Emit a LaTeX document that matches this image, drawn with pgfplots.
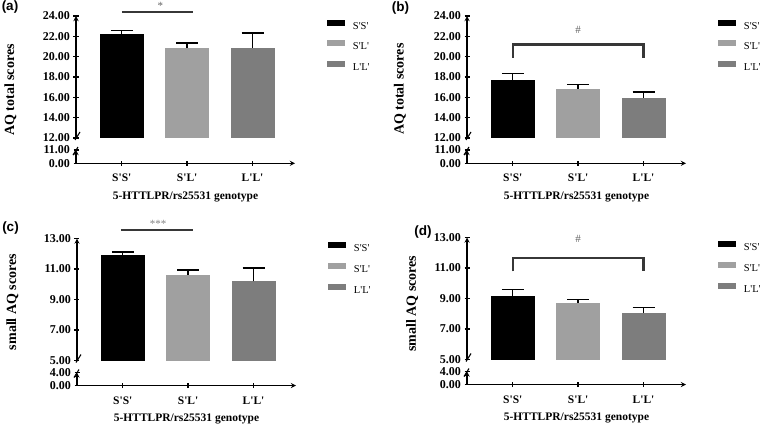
\documentclass[border=0pt]{standalone}
\usepackage{fontspec}
\setmainfont{Liberation Serif}[Ligatures=TeXOff]
\newfontfamily\sansb{Liberation Sans}[Ligatures=TeXOff]
\usepackage{pgfplots}
\pgfplotsset{compat=1.18}
\definecolor{cSL}{RGB}{160,160,160}
\definecolor{cLL}{RGB}{125,125,125}
\definecolor{sig}{RGB}{55,55,55}
\definecolor{sigtxt}{RGB}{100,100,100}
\tikzset{brk/.style={line width=1.1pt, black}}
\pgfplotsset{
  base/.style={scale only axis, width=219pt, xmin=-0.7, xmax=2.65,
    anchor=south west,
    axis line style={line width=1.3pt,-},
    every tick/.style={black,line width=1.3pt},
    tick align=outside, major tick length=5pt,
    /pgf/number format/assume math mode=true,
    yticklabel style={font=\bfseries\fontsize{12}{12}\selectfont,
      /pgf/number format/.cd, fixed, fixed zerofill, precision=2},
  },
  upper/.style={base, axis x line=none, axis y line=left, height=122pt,
    xtick=\empty, clip=true,
    ylabel style={font=\bfseries\fontsize{14}{14}\selectfont, anchor=center},
    error bars/y dir=plus, error bars/y explicit,
    error bars/error bar style={line width=1.3pt, black},
    error bars/error mark options={line width=1.3pt, mark size=11pt, black, rotate=90},
    legend style={draw=none, fill=none, inner sep=0pt, outer sep=0pt,
      anchor=north west, row sep=9.3pt, column sep=8pt,
      font=\fontsize{10.5}{11}\selectfont,
      nodes={inner sep=0pt, text height=8pt, text depth=2pt}},
    legend cell align=left,
  },
  lower/.style={base, axis x line=bottom, axis y line=left, clip=false,
    ymin=0, xtick={0,1,2}, xticklabels={S'S',S'L',L'L'},
    xticklabel style={font=\bfseries\fontsize{11.5}{11.5}\selectfont, yshift=-5pt},
    xlabel={5-HTTLPR/rs25531 genotype},
    xlabel style={font=\bfseries\fontsize{11.5}{11.5}\selectfont, yshift=-3pt},
  },
  over/.style={base, hide axis, clip=false, height=122pt},
  limg/.style={legend image code/.code={\fill[#1] (0pt,0.5pt) rectangle (18pt,6.5pt);}},
  bSS/.style={ybar, bar width=44pt, bar shift=0pt, fill=black, draw=none, limg=black},
  bSL/.style={ybar, bar width=44pt, bar shift=0pt, fill=cSL, draw=none, limg=cSL},
  bLL/.style={ybar, bar width=44pt, bar shift=0pt, fill=cLL, draw=none, limg=cLL},
}
\begin{document}
\begin{tikzpicture}
\useasboundingbox (0pt,0pt) rectangle (760pt,424pt);

% ---------------- (a) ----------------
\begin{axis}[upper, at={(76pt,286pt)}, ymin=12, ymax=24, ytick={12,14,...,24},
  ylabel={AQ total scores}, ylabel style={at={(axis description cs:-0.30,0.393)}},
  legend style={at={(axis description cs:1.146,0.97)}}]
\addplot[bSS] coordinates {(0,22.27) +- (0,0.33)}; \addlegendentry{S'S'}
\addplot[bSL] coordinates {(1,20.83) +- (0,0.52)}; \addlegendentry{S'L'}
\addplot[bLL] coordinates {(2,20.86) +- (0,1.47)}; \addlegendentry{L'L'}
\end{axis}
\begin{axis}[over, at={(76pt,286pt)}, ymin=12, ymax=24]
\addplot[sig, line width=2pt] coordinates {(0,24.43) (1.09,24.43)};
\node[text=sigtxt, font=\fontsize{11}{11}\selectfont] at (axis cs:0.59,24.95) {*};
\draw[brk] (rel axis cs:0,0) ++(-1pt,-2pt) -- ++(5pt,8pt);
\end{axis}
\begin{axis}[lower, at={(76pt,260.7pt)}, height=13.3pt, ymax=11, ytick={0,11}]
\draw[brk] (rel axis cs:0,1) ++(-3pt,-5pt) -- ++(5pt,8pt);
\end{axis}

% ---------------- (b) ----------------
\begin{axis}[upper, at={(467pt,286pt)}, ymin=12, ymax=24, ytick={12,14,...,24},
  ylabel={AQ total scores}, ylabel style={at={(axis description cs:-0.306,0.40)}},
  legend style={at={(axis description cs:1.146,0.97)}}]
\addplot[bSS] coordinates {(0,17.74) +- (0,0.62)}; \addlegendentry{S'S'}
\addplot[bSL] coordinates {(1,16.85) +- (0,0.43)}; \addlegendentry{S'L'}
\addplot[bLL] coordinates {(2,15.97) +- (0,0.55)}; \addlegendentry{L'L'}
\end{axis}
\begin{axis}[over, at={(467pt,286pt)}, ymin=12, ymax=24]
\addplot[sig, line width=2.2pt] coordinates {(0,19.9) (0,21.2) (2,21.2) (2,19.9)};
\node[text=sigtxt, font=\fontsize{11}{11}\selectfont] at (axis cs:1,22.6) {\#};
\draw[brk] (rel axis cs:0,0) ++(-1pt,-2pt) -- ++(5pt,8pt);
\end{axis}
\begin{axis}[lower, at={(467pt,260.7pt)}, height=13.3pt, ymax=11, ytick={0,11}]
\draw[brk] (rel axis cs:0,1) ++(-3pt,-5pt) -- ++(5pt,8pt);
\end{axis}

% ---------------- (c) ----------------
\begin{axis}[upper, at={(77pt,63.5pt)}, ymin=5, ymax=13, ytick={5,7,...,13},
  ylabel={small AQ scores}, ylabel style={at={(axis description cs:-0.295,0.48)}},
  legend style={at={(axis description cs:1.146,0.97)}}]
\addplot[bSS] coordinates {(0,11.93) +- (0,0.19)}; \addlegendentry{S'S'}
\addplot[bSL] coordinates {(1,10.63) +- (0,0.31)}; \addlegendentry{S'L'}
\addplot[bLL] coordinates {(2,10.19) +- (0,0.88)}; \addlegendentry{L'L'}
\end{axis}
\begin{axis}[over, at={(77pt,63.5pt)}, ymin=5, ymax=13]
\addplot[sig, line width=2pt] coordinates {(-0.03,13.53) (1.08,13.53)};
\node[text=sigtxt!80, font=\fontsize{11}{11}\selectfont] at (axis cs:0.54,13.95) {***};
\draw[brk] (rel axis cs:0,0) ++(-1pt,-2pt) -- ++(5pt,8pt);
\end{axis}
\begin{axis}[lower, at={(77pt,38.5pt)}, height=13pt, ymax=4, ytick={0,4}]
\draw[brk] (rel axis cs:0,1) ++(-3pt,-5pt) -- ++(5pt,8pt);
\end{axis}

% ---------------- (d) ----------------
\begin{axis}[upper, at={(467pt,64.5pt)}, ymin=5, ymax=13, ytick={5,7,...,13},
  ylabel={small AQ scores}, ylabel style={at={(axis description cs:-0.25,0.457)}},
  legend style={at={(axis description cs:1.146,0.97)}}]
\addplot[bSS] coordinates {(0,9.15) +- (0,0.42)}; \addlegendentry{S'S'}
\addplot[bSL] coordinates {(1,8.69) +- (0,0.26)}; \addlegendentry{S'L'}
\addplot[bLL] coordinates {(2,8.06) +- (0,0.35)}; \addlegendentry{L'L'}
\end{axis}
\begin{axis}[over, at={(467pt,64.5pt)}, ymin=5, ymax=13]
\addplot[sig, line width=2.2pt] coordinates {(0,10.78) (0,11.66) (2,11.66) (2,10.78)};
\node[text=sigtxt, font=\fontsize{11}{11}\selectfont] at (axis cs:1,12.91) {\#};
\draw[brk] (rel axis cs:0,0) ++(-1pt,-2pt) -- ++(5pt,8pt);
\end{axis}
\begin{axis}[lower, at={(467pt,39.5pt)}, height=13pt, ymax=4, ytick={0,4}]
\draw[brk] (rel axis cs:0,1) ++(-3pt,-5pt) -- ++(5pt,8pt);
\end{axis}

% panel labels
\node[font=\sansb\bfseries\fontsize{13.5}{13.5}\selectfont] at (10pt,417pt) {(a)};
\node[font=\sansb\bfseries\fontsize{13.5}{13.5}\selectfont] at (400.5pt,416pt) {(b)};
\node[font=\sansb\bfseries\fontsize{13.5}{13.5}\selectfont] at (10.5pt,196pt) {(c)};
\node[font=\sansb\bfseries\fontsize{13.5}{13.5}\selectfont] at (423pt,192pt) {(d)};
\end{tikzpicture}
\end{document}
